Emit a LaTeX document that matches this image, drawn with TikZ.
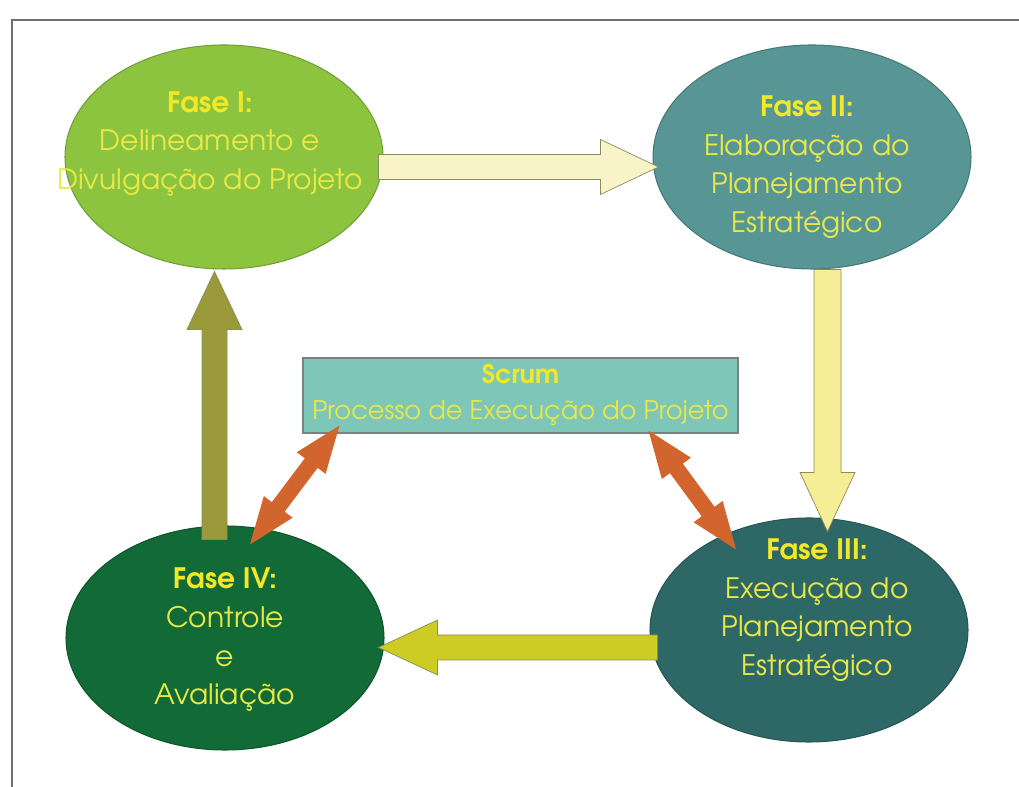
\documentclass[tikz,border=0pt]{standalone}
\usepackage{fontspec}
\setmainfont{TeX Gyre Adventor}
\usetikzlibrary{shapes.geometric,calc}

\definecolor{framegray}{RGB}{110,110,110}
\definecolor{f1fill}{RGB}{141,196,63}
\definecolor{f1line}{RGB}{112,160,52}
\definecolor{f2fill}{RGB}{88,150,150}
\definecolor{f2line}{RGB}{70,120,120}
\definecolor{f3fill}{RGB}{46,104,102}
\definecolor{f3line}{RGB}{38,86,84}
\definecolor{f4fill}{RGB}{18,106,54}
\definecolor{f4line}{RGB}{14,86,44}
\definecolor{boxfill}{RGB}{126,198,184}
\definecolor{boxline}{RGB}{120,130,128}
\definecolor{ar12}{RGB}{248,244,200}
\definecolor{ar23}{RGB}{245,238,150}
\definecolor{ar34}{RGB}{204,204,36}
\definecolor{ar41}{RGB}{154,154,58}
\definecolor{arline}{RGB}{140,140,90}
\definecolor{orng}{RGB}{210,100,45}
\definecolor{txtyel}{RGB}{232,232,70}
\definecolor{faseyel}{RGB}{242,232,40}

% block arrow: style, start, tip, shaft half width, head half width, head length
\newcommand{\blockarrow}[6]{%
  \coordinate (bA) at ($(#3)!#6!(#2)$);
  \path[#1] ($(#2)!#4!90:(#3)$) -- ($(bA)!#4!-90:(#2)$) -- ($(bA)!#5!-90:(#2)$)
    -- (#3) -- ($(bA)!#5!90:(#2)$) -- ($(bA)!#4!90:(#2)$) -- ($(#2)!#4!-90:(#3)$) -- cycle;
}
% double block arrow: style, tip, tip, shaft half width, head half width, head length
\newcommand{\dblarrow}[6]{%
  \coordinate (bS) at ($(#2)!#6!(#3)$);
  \coordinate (bT) at ($(#3)!#6!(#2)$);
  \path[#1] (#2) -- ($(bS)!#5!90:(#3)$) -- ($(bS)!#4!90:(#3)$) -- ($(bT)!#4!-90:(#2)$)
    -- ($(bT)!#5!-90:(#2)$) -- (#3) -- ($(bT)!#5!90:(#2)$) -- ($(bT)!#4!90:(#2)$)
    -- ($(bS)!#4!-90:(#3)$) -- ($(bS)!#5!-90:(#3)$) -- cycle;
}
\newcommand{\fasename}[1]{\textcolor{faseyel}{\bfseries Fase #1:}}

\tikzset{
  fase/.style={ellipse, minimum width=6.36cm, minimum height=4.48cm, inner sep=0pt, line width=0.6pt},
  faselbl/.style={align=center, text=txtyel, font=\fontsize{16}{22}\selectfont, inner sep=0pt},
  scrumbox/.style={rectangle, fill=boxfill, draw=boxline, line width=0.6pt, minimum width=8.7cm,
    minimum height=1.5cm, align=center, text=txtyel, font=\fontsize{14.6}{20.5}\selectfont, inner sep=0pt},
}

\begin{document}
\begin{tikzpicture}
\useasboundingbox (0,0) rectangle (20.38,15.74);
\draw[framegray, line width=1.2pt] (0.24,0) -- (0.24,15.34) -- (20.38,15.34);

\node[fase, fill=f1fill, draw=f1line] (1) at (4.48,12.6) {};
\node[fase, fill=f2fill, draw=f2line] (2) at (16.24,12.6) {};
\node[fase, fill=f3fill, draw=f3line] (3) at (16.18,3.14) {};
\node[fase, fill=f4fill, draw=f4line] (4) at (4.5,2.98) {};

\node[faselbl] (t1) at (4.2,12.86) {\fasename{I}\\Delineamento e\\Divulgação do Projeto};
\node[faselbl] (t2) at (16.14,12.4) {\fasename{II}\\Elaboração do\\Planejamento\\Estratégico};
\node[faselbl] (t3) at (16.34,3.54) {\fasename{III}\\Execução do\\Planejamento\\Estratégico};
\node[faselbl] (t4) at (4.5,2.94) {\fasename{IV}\\Controle\\e\\Avaliação};

\node[scrumbox] (s) at (10.41,7.83) {\textcolor{faseyel}{\bfseries Scrum}\\Processo de Execução do Projeto};

% phase arrows
\coordinate (a1) at ([xshift=-0.1cm,yshift=-0.2cm]1.east);
\coordinate (a2) at ([xshift=0.12cm,yshift=-0.2cm]2.west);
\blockarrow{fill=ar12, draw=arline}{a1}{a2}{0.25cm}{0.55cm}{1.16cm}

\coordinate (b2) at ([xshift=0.31cm]2.south);
\coordinate (b3) at ([xshift=0.37cm,yshift=-0.28cm]3.north);
\blockarrow{fill=ar23, draw=arline}{b2}{b3}{0.27cm}{0.55cm}{1.18cm}

\coordinate (c3) at ([xshift=0.16cm,yshift=-0.35cm]3.west);
\coordinate (c4) at ([xshift=-0.12cm,yshift=-0.19cm]4.east);
\blockarrow{fill=ar34, draw=arline}{c3}{c4}{0.25cm}{0.55cm}{1.18cm}

\coordinate (d4) at ([xshift=-0.21cm,yshift=-0.28cm]4.north);
\coordinate (d1) at ([xshift=-0.19cm,yshift=-0.04cm]1.south);
\blockarrow{fill=ar41, draw=arline}{d4}{d1}{0.25cm}{0.55cm}{1.16cm}

% scrum arrows
\coordinate (e1) at ([xshift=0.74cm,yshift=0.16cm]s.south west);
\coordinate (e2) at ([xshift=0.5cm,yshift=-0.38cm]4.north);
\dblarrow{fill=orng}{e1}{e2}{0.16cm}{0.36cm}{0.94cm}

\coordinate (g1) at ([xshift=-1.8cm,yshift=0.06cm]s.south east);
\coordinate (g2) at ([xshift=-1.46cm,yshift=-0.64cm]3.north);
\dblarrow{fill=orng}{g1}{g2}{0.16cm}{0.36cm}{0.94cm}
\end{tikzpicture}
\end{document}
